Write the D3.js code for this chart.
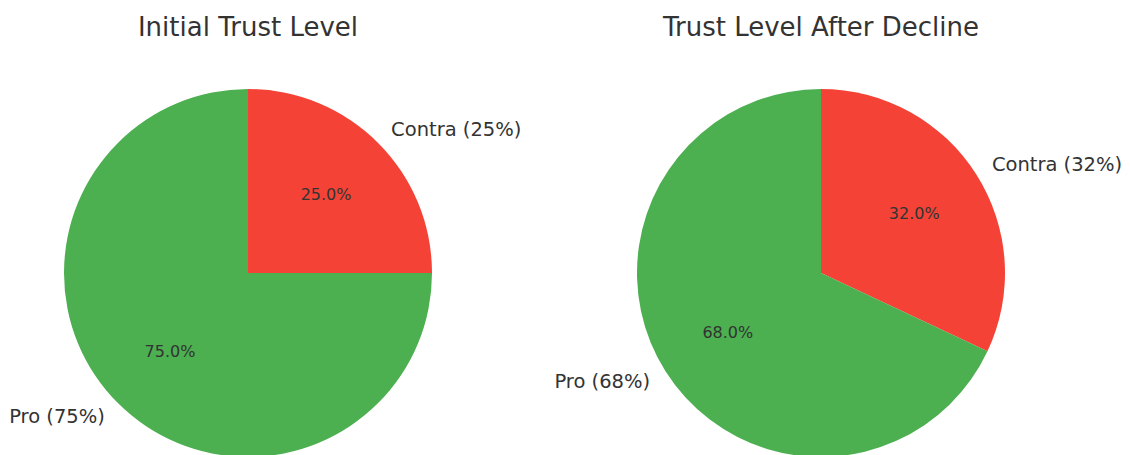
<!DOCTYPE html>
<html>
<head>
<meta charset="utf-8">
<script src="https://cdn.jsdelivr.net/npm/d3@7"></script>
<style>
  body { margin: 0; background: #fff; }
  text { font-family: "DejaVu Sans", sans-serif; fill: #333; }
</style>
</head>
<body>
<svg id="chart"></svg>
<script>
const labels = ["Contra", "Pro"];
const initialValues = [25, 75];
const declineValues = [32, 68];
const titles = ["Initial Trust Level", "Trust Level After Decline"];
const colors = ["#F44336", "#4CAF50"];

const width = 1130, height = 455;
const radius = 184;
const centers = [[248, 273], [821, 273]];

const svg = d3.select("#chart").attr("width", width).attr("height", height);

function drawPie(values, title, center) {
    const g = svg.append("g").attr("transform", `translate(${center[0]}, ${center[1]})`);
    const total = d3.sum(values);
    const pie = d3.pie().sort(null).value(d => d.value);
    const arcs = pie(values.map((v, i) => ({ label: labels[i], value: v, color: colors[i] })));
    const arc = d3.arc().innerRadius(0).outerRadius(radius);
    const mid = d => (d.startAngle + d.endAngle) / 2;

    g.selectAll("path")
        .data(arcs)
        .join("path")
        .attr("d", arc)
        .attr("fill", d => d.data.color);

    // percent labels at 0.6 r
    g.selectAll("text.pct")
        .data(arcs)
        .join("text")
        .attr("class", "pct")
        .attr("x", d => Math.sin(mid(d)) * radius * 0.6)
        .attr("y", d => -Math.cos(mid(d)) * radius * 0.6)
        .attr("text-anchor", "middle")
        .attr("dominant-baseline", "central")
        .style("font-size", "16px")
        .text(d => (d.data.value / total * 100).toFixed(1) + "%");

    // outer labels at 1.1 r
    g.selectAll("text.lbl")
        .data(arcs)
        .join("text")
        .attr("class", "lbl")
        .attr("x", d => Math.sin(mid(d)) * radius * 1.1)
        .attr("y", d => -Math.cos(mid(d)) * radius * 1.1)
        .attr("text-anchor", d => Math.sin(mid(d)) >= 0 ? "start" : "end")
        .attr("dominant-baseline", "central")
        .style("font-size", "19.5px")
        .text(d => `${d.data.label} (${d.data.value}%)`);

    svg.append("text")
        .attr("x", center[0])
        .attr("y", 27)
        .attr("text-anchor", "middle")
        .attr("dominant-baseline", "central")
        .style("font-size", "26px")
        .text(title);
}

drawPie(initialValues, titles[0], centers[0]);
drawPie(declineValues, titles[1], centers[1]);
</script>
</body>
</html>
